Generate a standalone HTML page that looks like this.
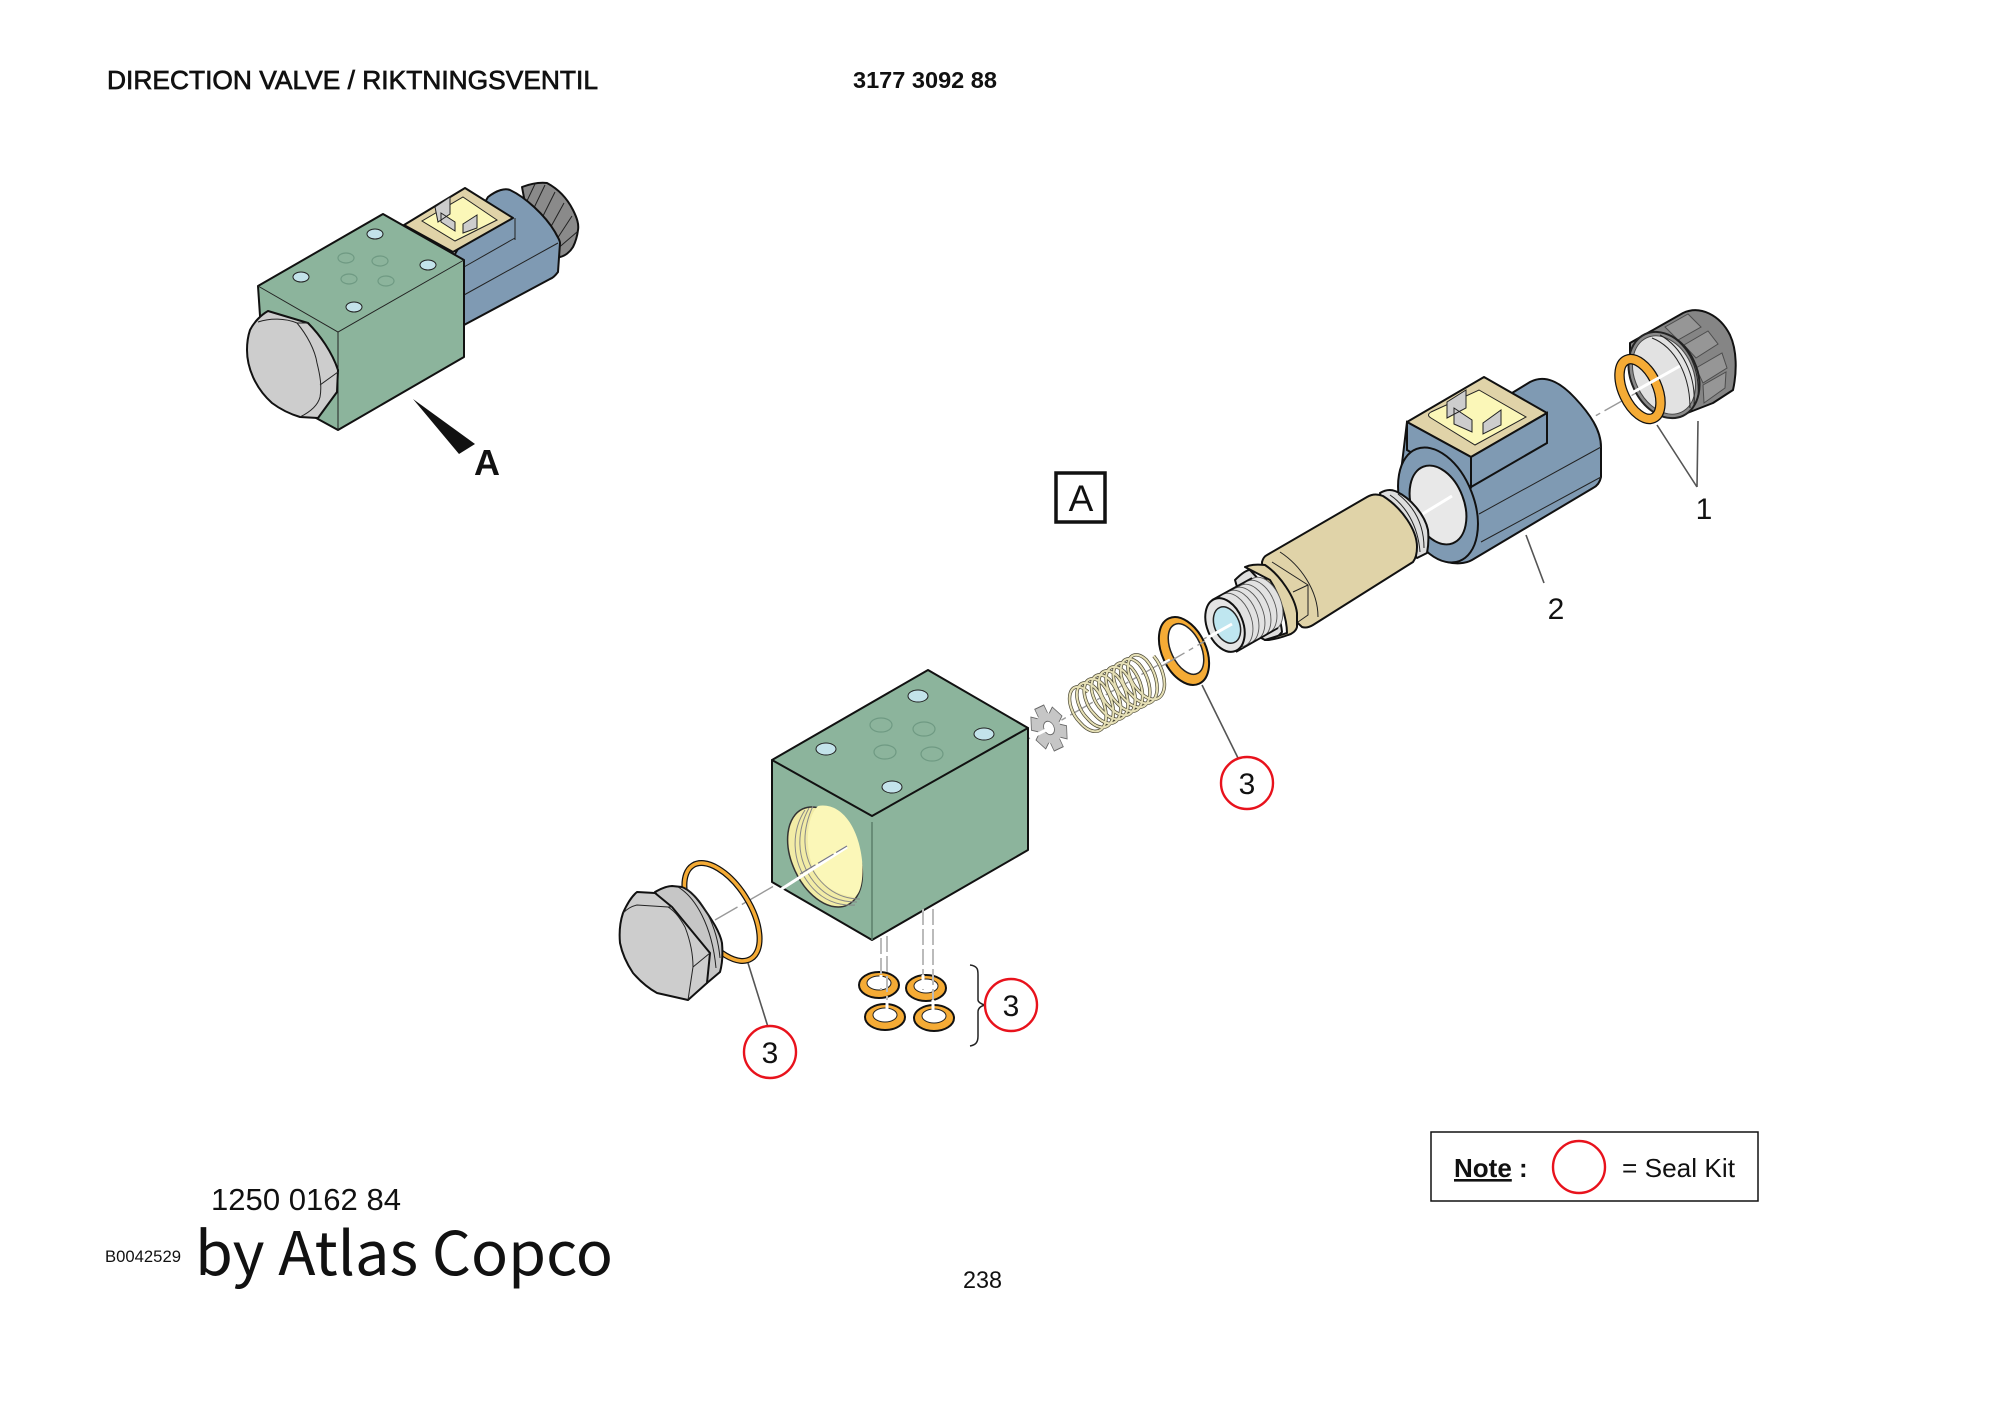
<!DOCTYPE html>
<html><head><meta charset="utf-8"><style>
html,body{margin:0;padding:0;background:#fff}
svg{display:block}
text{font-family:"Liberation Sans",Arial,sans-serif;fill:#111}
.k{stroke:#111;stroke-width:2;stroke-linejoin:round;stroke-linecap:round}
.t{stroke:#222;stroke-width:1;fill:none}
.l{stroke:#555;stroke-width:1.6;fill:none}
.c{fill:#fff;stroke:#e8121c;stroke-width:2.4}
.g{fill:#8cb49c}.b{fill:#7f9ab3}.n{fill:#e0d3a8}.y{fill:#fbf7b8}.o{fill:#f5ab35}.s{fill:#cdcdcd}
.h{fill:#c3e3ea;stroke:#222;stroke-width:1}
.r{fill:none;stroke:#6f9a83;stroke-width:1.2}
.w{stroke:#fff;stroke-width:3;fill:none}
.d{stroke:#999;stroke-width:1.4;fill:none;stroke-dasharray:26 5 5 5}
.v{stroke:#bbb;stroke-width:2;fill:none;stroke-dasharray:16 4}
.th{fill:#e2e2e2;stroke:#555;stroke-width:.9}
</style></head><body>
<svg width="2000" height="1414" viewBox="0 0 2000 1414" xmlns="http://www.w3.org/2000/svg">
<rect width="2000" height="1414" fill="#fff"/>

<text x="107" y="89" font-size="25.5" stroke="#111" stroke-width=".7" textLength="491" lengthAdjust="spacingAndGlyphs">DIRECTION VALVE / RIKTNINGSVENTIL</text>
<text x="853" y="88" font-size="23" font-weight="bold" textLength="144" lengthAdjust="spacingAndGlyphs">3177 3092 88</text>

<!-- small assembled valve -->
<g>
<path class="k" fill="#8a8a8a" d="M522 187C530 184 538 182 547 183C560 190 568 200 573 210C577 218 579 224 578 230C577 238 575 243 573 247C570 252 565 256 560 257L530 230Z"/>
<path class="t" stroke="#555" d="M535 184L526 203M545 185L532 212M555 192L540 222M564 203L548 232M572 216L555 242M577 232L556 250"/>
<path class="k b" d="M488 197C497 190 505 188 510 190C525 197 545 215 555 232C558 238 560 240 560 243L558 272C555 276 553 278 550 279L464 325L440 280Z"/>
<path class="t" d="M464 267L515 238M464 295L558 243"/>
<path class="k n" d="M465 188L513 218L453 252L404 225Z"/>
<path d="M515 218V240" class="t"/>
<path class="y" stroke="#222" stroke-width="1" d="M463 197L497 220L455 241L422 221Z"/>
<path class="s" stroke="#222" stroke-width="1" d="M435 207L450 197V214L438 222ZM441 213L455 222V231L441 222ZM463 224L477 215V228L463 233Z"/>
<path class="k g" d="M258 286L383 214L464 260V357L338 430L265 390Z"/>
<path class="t" d="M258 286L338 332L464 260M338 332V430"/>
<ellipse class="h" cx="301" cy="277" rx="8" ry="5"/><ellipse class="h" cx="375" cy="234" rx="8" ry="5"/>
<ellipse class="h" cx="428" cy="265" rx="8" ry="5"/><ellipse class="h" cx="354" cy="307" rx="8" ry="5"/>
<ellipse class="r" cx="346" cy="258" rx="8" ry="5"/><ellipse class="r" cx="380" cy="261" rx="8" ry="5"/>
<ellipse class="r" cx="349" cy="279" rx="8" ry="5"/><ellipse class="r" cx="386" cy="281" rx="8" ry="5"/>
<path class="k s" d="M268 311L308 323C320 335 332 352 338 370L337 392L318 418L300 417C290 414 280 409 272 403C263 395 257 386 253 377C249 368 247 358 247 350C247 342 248 336 250 330C254 322 261 315 268 311Z"/>
<path class="t" d="M258 322C270 318 285 318 297 323C307 335 315 350 317 363C320 375 322 386 320 397C318 405 310 412 300 417M308 323L297 323M338 372L320 385"/>
<path fill="#111" d="M413 399L475 444L459 454Z"/>
<text x="474" y="475" font-size="36" font-weight="bold">A</text>
</g>

<!-- A box -->
<rect x="1056" y="473" width="49" height="49" fill="#fff" stroke="#111" stroke-width="3.5"/>
<text x="1081" y="511" font-size="37" text-anchor="middle">A</text>

<!-- centre line -->
<path class="d" d="M715 920L1030 738L1597 415L1682 367"/>

<!-- nut -->
<g>
<path class="k" fill="#858585" d="M1630 343L1683 313C1700 305 1720 315 1730 335C1737 350 1737 372 1733 390L1713 403L1677 417C1655 420 1635 395 1630 370Z"/>
<path stroke="#4c4c4c" stroke-width="1" fill="#969696" d="M1665 327L1688 314L1701 327L1678 340ZM1684 345L1708 331L1718 344L1696 358ZM1696 368L1722 353L1727 368L1703 383ZM1703 385L1726 372L1725 388L1704 403Z"/>
<ellipse cx="1664" cy="375" rx="33" ry="45" transform="rotate(-25 1664 375)" fill="#8a8a8a" stroke="#222" stroke-width="2"/>
<ellipse cx="1664" cy="375" rx="29" ry="41" transform="rotate(-25 1664 375)" fill="#e2e2e2" stroke="#444" stroke-width="1"/>
<path class="t" stroke="#888" d="M1652 338C1675 347 1690 375 1690 408M1660 335C1682 347 1696 375 1694 405M1668 334C1690 347 1700 370 1698 398"/>
<ellipse cx="1640" cy="389" rx="17" ry="32" transform="rotate(-25 1640 389)" fill="none" stroke="#111" stroke-width="10.500"/>
<ellipse cx="1640" cy="389" rx="17" ry="32" transform="rotate(-25 1640 389)" fill="none" stroke="#f5ab35" stroke-width="8"/>
</g>
<path class="w" d="M1630 394L1680 366"/>
<path class="l" d="M1657 425L1697 487M1698 421L1697 487"/>
<text x="1704" y="519" font-size="30" text-anchor="middle">1</text>

<!-- coil -->
<g>
<path class="k b" d="M1512 393L1530 382C1545 374 1560 382 1575 398C1590 414 1601 430 1601 447V477C1600 482 1597 486 1593 488L1472 560C1465 564 1455 564 1447 562L1400 480L1407 422Z"/>
<path class="t" d="M1479 514L1601 447M1481 542L1601 477"/>
<path class="k n" d="M1484 377L1547 413L1471 457L1407 422Z"/>
<path class="b" stroke="#111" stroke-width="2" d="M1407 422L1471 457V487L1407 450ZM1471 457L1547 413V443L1471 487Z"/>
<path class="y" stroke="#222" stroke-width="1" d="M1479 390L1526 417L1475 445L1431 418Q1426 415 1431 412Z"/>
<path class="s" stroke="#222" stroke-width="1" d="M1447 402L1466 390V408L1447 418ZM1454 408L1472 420V432L1454 424ZM1483 423L1501 410V425L1483 434Z"/>
<ellipse class="k b" cx="1438" cy="505" rx="36" ry="60" transform="rotate(-21 1438 505)"/>
<ellipse cx="1438" cy="505" rx="26" ry="41" transform="rotate(-21 1438 505)" fill="#e8e8e8" stroke="#111" stroke-width="2"/>
</g>
<path class="w" d="M1416 518L1452 496"/>
<path class="l" d="M1526 535L1544 583"/>
<text x="1556" y="619" font-size="30" text-anchor="middle">2</text>

<!-- cartridge -->
<g>
<path class="k" fill="#dedede" d="M1380 493C1385 490 1390 489 1395 491C1410 497 1425 515 1428 530C1429 540 1428 548 1427 553L1417 558L1385 520Z"/>
<path class="t" d="M1390 495C1405 505 1418 525 1420 552M1398 494C1412 505 1424 522 1424 548"/>
<path class="k n" d="M1262 562C1263 558 1265 556 1267 555L1367 497C1372 494 1378 494 1383 496C1402 508 1417 530 1417 547C1417 553 1416 558 1413 562L1313 625C1308 628 1305 628 1302 627C1285 612 1262 585 1262 562Z"/>
<path class="t" stroke="#8a7f5a" d="M1280 552C1300 565 1318 590 1318 617M1272 562L1308 585V615L1298 622M1293 592L1308 585"/>
<path class="k" fill="#dedede" d="M1235 580C1240 575 1246 570 1250 570C1265 585 1280 610 1282 632C1278 637 1274 640 1265 640L1250 632Z"/>
<path class="k n" d="M1245 567C1250 565 1255 564 1265 565C1280 575 1295 597 1297 613V627C1296 631 1292 634 1288 635C1280 638 1272 640 1265 640L1287 633C1287 620 1280 595 1270 580Z"/>
<ellipse class="th" cx="1264" cy="604" rx="17" ry="28" transform="rotate(-22 1264 604)"/>
<ellipse class="th" cx="1258" cy="607" rx="17" ry="28" transform="rotate(-22 1258 607)"/>
<ellipse class="th" cx="1252" cy="611" rx="17" ry="28" transform="rotate(-22 1252 611)"/>
<ellipse class="th" cx="1246" cy="614" rx="17" ry="28" transform="rotate(-22 1246 614)"/>
<ellipse class="th" cx="1240" cy="617" rx="17" ry="28" transform="rotate(-22 1240 617)"/>
<ellipse class="th" cx="1234" cy="620" rx="17" ry="28" transform="rotate(-22 1234 620)"/>
<ellipse class="k" cx="1225" cy="625" rx="18" ry="28" transform="rotate(-22 1225 625)" fill="#e5e5e5"/>
<ellipse cx="1227" cy="625" rx="12.500" ry="19" transform="rotate(-22 1227 625)" fill="#bfe6f0" stroke="#222" stroke-width="1.5"/>
<path d="M1212 600L1252 578M1236 652L1278 628" stroke="#111" stroke-width="1.800" fill="none"/>
</g>
<path class="w" d="M1207 638L1232 624"/>

<!-- ring -->
<ellipse cx="1184" cy="651" rx="22" ry="36" transform="rotate(-25 1184 651)" class="k o"/>
<ellipse cx="1186" cy="649" rx="15" ry="27" transform="rotate(-25 1186 649)" fill="#fff" stroke="#222" stroke-width="1.5"/>
<path class="w" d="M1158 666L1170 660"/>
<path class="d" d="M1162 666L1205 641"/>
<path class="l" d="M1202 685L1238 758"/>
<circle cx="1247" cy="783" r="26" class="c"/>
<text x="1247" y="794" font-size="30" text-anchor="middle">3</text>

<!-- spring -->
<path fill="none" stroke="#4c4936" stroke-width="3.400" d="M1088 692a9 16 -25 0 0 -8.350 30a9 16 -25 0 0 15.650 -34a9 16 -25 0 0 -8.350 30a9 16 -25 0 0 15.650 -34a9 16 -25 0 0 -8.350 30a9 16 -25 0 0 15.650 -34a9 16 -25 0 0 -8.350 30a9 16 -25 0 0 15.650 -34a9 16 -25 0 0 -8.350 30a9 16 -25 0 0 15.650 -34a9 16 -25 0 0 -8.350 30a9 16 -25 0 0 15.650 -34a9 16 -25 0 0 -8.350 30a9 16 -25 0 0 15.650 -34a9 16 -25 0 0 -8.350 30a9 16 -25 0 0 15.650 -34a9 16 -25 0 0 -8.350 30a9 16 -25 0 0 15.650 -34"/>
<path fill="none" stroke="#e6e0b6" stroke-width="2" d="M1088 692a9 16 -25 0 0 -8.350 30a9 16 -25 0 0 15.650 -34a9 16 -25 0 0 -8.350 30a9 16 -25 0 0 15.650 -34a9 16 -25 0 0 -8.350 30a9 16 -25 0 0 15.650 -34a9 16 -25 0 0 -8.350 30a9 16 -25 0 0 15.650 -34a9 16 -25 0 0 -8.350 30a9 16 -25 0 0 15.650 -34a9 16 -25 0 0 -8.350 30a9 16 -25 0 0 15.650 -34a9 16 -25 0 0 -8.350 30a9 16 -25 0 0 15.650 -34a9 16 -25 0 0 -8.350 30a9 16 -25 0 0 15.650 -34a9 16 -25 0 0 -8.350 30a9 16 -25 0 0 15.650 -34"/>

<!-- star washer -->
<g transform="translate(1049 728) rotate(-25) scale(.72 1)" fill="#c6c6c6" stroke="#666" stroke-width="1">
<rect x="-7" y="-23" width="14" height="10" transform="rotate(0)"/><rect x="-7" y="-23" width="14" height="10" transform="rotate(60)"/><rect x="-7" y="-23" width="14" height="10" transform="rotate(120)"/><rect x="-7" y="-23" width="14" height="10" transform="rotate(180)"/><rect x="-7" y="-23" width="14" height="10" transform="rotate(240)"/><rect x="-7" y="-23" width="14" height="10" transform="rotate(300)"/>
<circle r="16" stroke="none"/><circle r="7" fill="#fff"/>
</g>

<!-- block -->
<path class="k g" d="M772 760L928 670L1028 728V850L872 940L772 882Z"/>
<path class="k" fill="none" stroke-width="1.500" d="M772 760L872 816L1028 728"/>
<path stroke="#5c7e6b" stroke-width="1.500" d="M872 822V940"/>
<ellipse cx="825" cy="857" rx="33" ry="53" transform="rotate(-25 825 857)" fill="#f2eca6" stroke="#333" stroke-width="1.500"/>
<path fill="none" stroke="#888" stroke-width="1" d="M805 810C792 830 790 860 810 885C822 900 838 906 855 905M809 808C797 830 795 858 814 882C826 897 840 902 857 902M813 806C802 830 801 856 818 878C830 893 844 899 860 899"/>
<path fill="#fbf7b8" d="M818 806C840 802 858 825 862 860C864 880 860 895 854 897C838 895 825 888 815 872C806 855 804 820 818 806Z"/>
<ellipse class="h" cx="826" cy="749" rx="10" ry="6"/><ellipse class="h" cx="918" cy="696" rx="10" ry="6"/>
<ellipse class="h" cx="984" cy="734" rx="10" ry="6"/><ellipse class="h" cx="892" cy="787" rx="10" ry="6"/>
<ellipse class="r" cx="881" cy="725" rx="11" ry="7"/><ellipse class="r" cx="924" cy="729" rx="11" ry="7"/>
<ellipse class="r" cx="885" cy="752" rx="11" ry="7"/><ellipse class="r" cx="932" cy="754" rx="11" ry="7"/>
<path class="w" d="M780 890L847 847"/>
<path d="M800 874L847 846" stroke="#778" stroke-width="1.200" stroke-dasharray="18 3"/>
<path class="w" d="M1030 738L1046 730"/>

<!-- O-ring + plug -->
<ellipse cx="722" cy="912" rx="28" ry="55" transform="rotate(-32 722 912)" fill="none" stroke="#111" stroke-width="6"/>
<ellipse cx="722" cy="912" rx="28" ry="55" transform="rotate(-32 722 912)" fill="none" stroke="#f5ab35" stroke-width="3.500"/>
<path class="k" fill="#c6c6c6" d="M655 892C662 888 667 886 672 886L682 887C690 890 697 898 703 907C712 920 720 932 722 943C723 955 722 965 720 972L707 983Z"/>
<path class="t" d="M678 887C695 897 712 925 716 968M685 888C702 898 717 925 720 958"/>
<path class="k s" d="M637 892L655 893L672 907L710 953L707 983L688 1000L657 993C648 988 640 981 633 973C627 964 622 953 620 943C619 932 620 922 623 913C627 904 632 896 637 892Z"/>
<path class="t" d="M623 913C628 908 632 906 637 905L668 907C676 912 681 920 685 927C690 940 693 953 693 967L688 1000M672 907L668 907M693 967L710 953"/>
<path class="l" d="M748 963L768 1027"/>
<circle cx="770" cy="1052" r="26" class="c"/>
<text x="770" y="1063" font-size="30" text-anchor="middle">3</text>

<!-- port washers -->
<g>
<ellipse class="k o" cx="879" cy="985" rx="20" ry="13"/><ellipse cx="879" cy="983" rx="12" ry="7" fill="#fff" stroke="#222"/>
<ellipse class="k o" cx="926" cy="988" rx="20" ry="13"/><ellipse cx="926" cy="986" rx="12" ry="7" fill="#fff" stroke="#222"/>
<ellipse class="k o" cx="885" cy="1017" rx="20" ry="13"/><ellipse cx="885" cy="1015" rx="12" ry="7" fill="#fff" stroke="#222"/>
<ellipse class="k o" cx="934" cy="1018" rx="20" ry="13"/><ellipse cx="934" cy="1016" rx="12" ry="7" fill="#fff" stroke="#222"/>
</g>
<path class="v" d="M881 938V990M887 936V1018M923 909V990M933 909V1018"/>
<path class="w" stroke-width="2" d="M881 975V988M887 1000V1018M923 975V988M933 1000V1018"/>
<path d="M970 965C978 966 978 970 978 975V1000C978 1002 981 1004 985 1005C981 1006 978 1008 978 1012V1036C978 1042 976 1045 970 1046" fill="none" stroke="#222" stroke-width="1.500"/>
<circle cx="1011" cy="1005" r="26" class="c"/>
<text x="1011" y="1016" font-size="30" text-anchor="middle">3</text>

<!-- note -->
<rect x="1431" y="1132" width="327" height="69" fill="#fff" stroke="#111" stroke-width="1.500"/>
<text x="1454" y="1177" font-size="26" font-weight="bold" text-decoration="underline">Note</text>
<text x="1519" y="1177" font-size="26" font-weight="bold">:</text>
<circle cx="1579" cy="1167" r="26" class="c"/>
<text x="1622" y="1177" font-size="26" textLength="113" lengthAdjust="spacingAndGlyphs">= Seal Kit</text>

<!-- footer -->
<text x="211" y="1210" font-size="31" textLength="190" lengthAdjust="spacingAndGlyphs">1250 0162 84</text>
<text x="105" y="1262" font-size="16.500" textLength="76" lengthAdjust="spacingAndGlyphs">B0042529</text>
<text x="195" y="1275" font-size="60" style='font-family:"Noto Sans CJK SC","Liberation Sans",sans-serif' textLength="418" lengthAdjust="spacingAndGlyphs">by Atlas Copco</text>
<text x="963" y="1288" font-size="24" textLength="39" lengthAdjust="spacingAndGlyphs">238</text>
</svg>
</body></html>
